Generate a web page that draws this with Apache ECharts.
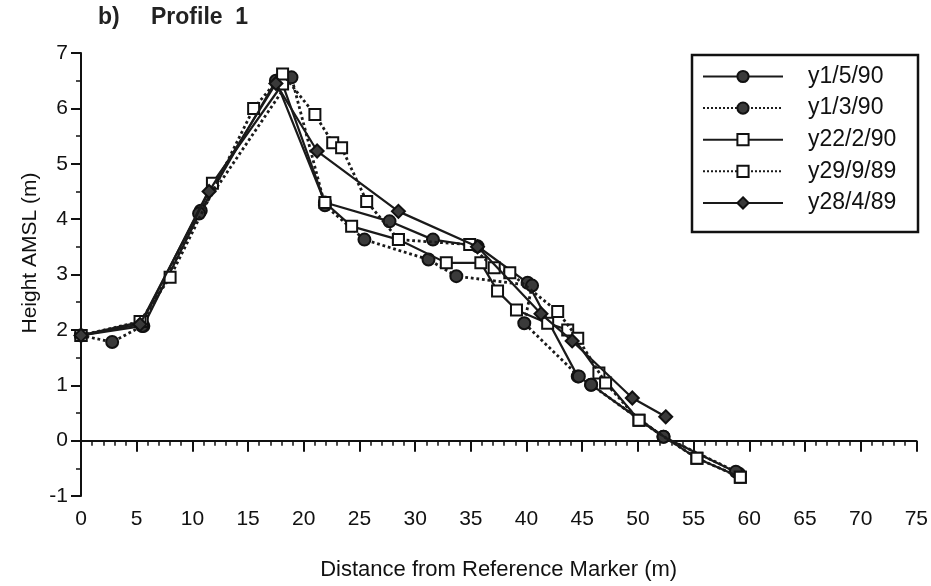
<!DOCTYPE html>
<html><head><meta charset="utf-8">
<script src="https://cdn.jsdelivr.net/npm/echarts@6/dist/echarts.min.js"></script>
<style>html,body{margin:0;padding:0;background:#fff}#c{width:931px;height:586px}</style>
</head><body><div id="c"></div>
<script>
const seriesNames = ['y1/5/90','y1/3/90','y22/2/90','y29/9/89','y28/4/89'];
const xTicks = [0,5,10,15,20,25,30,35,40,45,50,55,60,65,70,75];
const yTicks = [-1,0,1,2,3,4,5,6,7];
const p_y1_5_90 = [[0,1.9],[5.6,2.07],[10.75,4.15],[17.5,6.5],[21.9,4.3],[27.7,3.96],[31.6,3.63],[35.6,3.51],[40.1,2.85],[44.6,1.16],[45.8,1.01],[52.3,0.07],[59.1,-0.6]];
const p_y1_3_90 = [[0,1.9],[2.8,1.78],[5.5,2.07],[10.6,4.1],[18.9,6.56],[21.9,4.25],[25.45,3.63],[31.2,3.27],[33.7,2.97],[40.5,2.8],[39.8,2.12],[44.7,1.16],[45.8,1.01],[52.3,0.07],[58.8,-0.56]];
const p_y22_2_90 = [[0,1.9],[5.5,2.15],[11.8,4.65],[18.1,6.44],[21.9,4.3],[24.3,3.87],[28.5,3.63],[32.8,3.21],[35.9,3.21],[37.4,2.7],[39.1,2.36],[41.9,2.12],[43.7,2.0],[46.5,1.22],[50.1,0.37],[55.3,-0.32],[59.2,-0.66]];
const p_y29_9_89 = [[0,1.9],[5.3,2.15],[8.0,2.95],[15.5,6.0],[18.1,6.62],[21.0,5.89],[22.6,5.38],[23.4,5.29],[25.65,4.32],[28.5,3.63],[34.9,3.54],[37.1,3.12],[38.5,3.03],[42.8,2.33],[44.6,1.85],[47.1,1.04],[50.1,0.37],[55.3,-0.32],[59.2,-0.66]];
const p_y28_4_89 = [[0,1.9],[5.3,2.1],[11.5,4.5],[17.5,6.45],[21.2,5.23],[28.5,4.14],[35.6,3.5],[41.3,2.29],[44.1,1.8],[49.5,0.77],[52.5,0.43]];

const dataSets = [p_y1_5_90, p_y1_3_90, p_y22_2_90, p_y29_9_89, p_y28_4_89];
const lineTypes = ['solid','dotted','solid','dotted','solid'];
const symbols = ['circle','circle','rect','rect','diamond'];
const fills = ['#3a3a3a','#3a3a3a','#ffffff','#ffffff','#3a3a3a'];
const sizes = [12,12,11,11,13];

const chart = echarts.init(document.getElementById('c'), null, {renderer:'canvas'});
const FONT = 'Liberation Sans';
const series = seriesNames.map((n,i)=>({
  name:n, type:'line', data:dataSets[i], symbol:symbols[i], symbolSize:sizes[i],
  showAllSymbol:true, animation:false,
  lineStyle:{color:'#1a1a1a', width: lineTypes[i]==='dotted'?2.8:2.2, type:lineTypes[i]},
  itemStyle:{color:fills[i], borderColor:'#111', borderWidth:2, opacity:1},
  z: 2+i
}));
chart.setOption({
  animation:false,
  backgroundColor:'#fff',
  title:[
    {text:'b)', left:93, top:1, textStyle:{fontFamily:FONT,fontSize:23,fontWeight:'bold',color:'#222'}},
    {text:'Profile  1', left:146, top:1, textStyle:{fontFamily:FONT,fontSize:23,fontWeight:'bold',color:'#222'}}
  ],
  grid:{left:81, right:11, top:53, bottom:90, containLabel:false},
  legend:{
    orient:'vertical', left:697, top:60, itemWidth:80, itemHeight:14, itemGap:8.6,
    selectedMode:false, data:seriesNames,
    textStyle:{fontFamily:FONT, fontSize:23, color:'#111', padding:[0,0,0,20]}
  },
  graphic:[
    {type:'rect', shape:{x:692,y:55,width:226,height:177}, style:{fill:'none',stroke:'#111',lineWidth:2.5}, z:100},
    {type:'text', x:30, y:253, rotation:Math.PI/2, z:100,
      style:{text:'Height AMSL (m)', fontFamily:FONT, fontSize:21, fill:'#111', textAlign:'center', textVerticalAlign:'middle'}}
  ],
  xAxis:{
    type:'value', min:0, max:75, interval:5,
    name:'Distance from Reference Marker (m)', nameLocation:'middle', nameGap:63,
    nameTextStyle:{fontFamily:FONT,fontSize:22,color:'#111'},
    axisLine:{lineStyle:{color:'#111',width:2}},
    axisTick:{show:true,length:11,lineStyle:{color:'#111',width:2}},
    minorTick:{show:true,splitNumber:5,length:5,lineStyle:{color:'#111',width:1.5}},
    splitLine:{show:false},
    axisLabel:{fontFamily:FONT,fontSize:21,color:'#111',margin:13,
      formatter:v=>xTicks.includes(v)?String(v):''}
  },
  yAxis:{
    type:'value', min:-1, max:7, interval:1,
    axisLine:{lineStyle:{color:'#111',width:2}},
    axisTick:{show:true,length:10,lineStyle:{color:'#111',width:2}},
    minorTick:{show:true,splitNumber:2,length:5,lineStyle:{color:'#111',width:1.5}},
    splitLine:{show:false},
    axisLabel:{fontFamily:FONT,fontSize:21,color:'#111',margin:13,
      formatter:v=>yTicks.includes(v)?String(v):''}
  },
  series: series
});
</script></body></html>
